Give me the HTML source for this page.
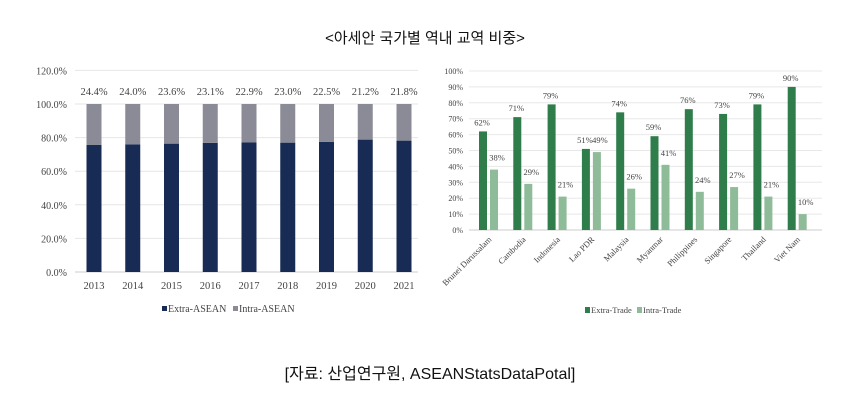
<!DOCTYPE html>
<html><head><meta charset="utf-8"><style>
body{margin:0;width:849px;height:403px;background:#fff;overflow:hidden}
svg text{font-family:"Liberation Serif",serif;fill:#444}
.k{font-family:"Liberation Sans","Noto Sans CJK KR",sans-serif;fill:#111}
</style></head><body>
<svg width="849" height="403">
<text class="k" x="425" y="43" text-anchor="middle" font-size="15">&lt;아세안 국가별 역내 교역 비중&gt;</text>
<g id="left"></g>
<g id="right"></g>
<text class="k" x="430" y="379" text-anchor="middle" font-size="16">[자료: 산업연구원, ASEANStatsDataPotal]</text>
</svg>
<script>
const years=["2013","2014","2015","2016","2017","2018","2019","2020","2021"];
const intraAsean=[24.4,24.0,23.6,23.1,22.9,23.0,22.5,21.2,21.8];
const leftTicks=["0.0%","20.0%","40.0%","60.0%","80.0%","100.0%","120.0%"];
const countries=["Brunei Darussalam","Cambodia","Indonesia","Lao PDR","Malaysia","Myanmar","Philippines","Singapore","Thailand","Viet Nam"];
const extraTrade=[62,71,79,51,74,59,76,73,79,90];
const intraTrade=[38,29,21,49,26,41,24,27,21,10];
const rightTicks=["0%","10%","20%","30%","40%","50%","60%","70%","80%","90%","100%"];
const NS="http://www.w3.org/2000/svg";
function mk(p,t,a,txt){const e=document.createElementNS(NS,t);for(const k in a)e.setAttribute(k,a[k]);if(txt!=null)e.textContent=txt;p.appendChild(e);return e;}
// left
const L=document.getElementById('left');
const ly=v=>272-v*1.68, lx=i=>94+i*38.75;
leftTicks.forEach((t,i)=>{const v=i*20;
 const g=mk(L,'line',{x1:75,x2:418,y1:ly(v),y2:ly(v),stroke:i==0?'#ccc':'#e6e6e6'});
 
 const tx=mk(L,'text',{x:67,y:ly(v)+4,'text-anchor':'end','font-size':10},t);
 });
years.forEach((y,i)=>{const ex=100-intraAsean[i];
 const b=mk(L,'rect',{x:lx(i)-7.5,y:ly(ex),width:15,height:ly(0)-ly(ex),fill:'#172b55'});
 
 const c=mk(L,'rect',{x:lx(i)-7.5,y:ly(100),width:15,height:ly(ex)-ly(100),fill:'#8a8b96'});
 
 const t=mk(L,'text',{x:lx(i),y:95,'text-anchor':'middle','font-size':10.5},intraAsean[i].toFixed(1)+'%');
 
 const xl=mk(L,'text',{x:lx(i),y:289,'text-anchor':'middle','font-size':10.5},y);
 });
let e=mk(L,'rect',{x:162,y:306,width:5,height:5,fill:'#172b55'});
e=mk(L,'text',{x:168,y:312,'font-size':10},'Extra-ASEAN');
e=mk(L,'rect',{x:233,y:306,width:5,height:5,fill:'#8a8b96'});
e=mk(L,'text',{x:239,y:312,'font-size':10},'Intra-ASEAN');
// right
const R=document.getElementById('right');
const ry=v=>230-v*1.59, rx=i=>489+i*34.3;
rightTicks.forEach((t,i)=>{const v=i*10;
 const g=mk(R,'line',{x1:469,x2:822,y1:ry(v),y2:ry(v),stroke:i==0?'#ccc':'#e8e8e8'});
 
 const tx=mk(R,'text',{x:463,y:ry(v)+3,'text-anchor':'end','font-size':8},t);
 });
countries.forEach((c,i)=>{const x=rx(i);
 const a=mk(R,'rect',{x:x-10,y:ry(extraTrade[i]),width:8,height:ry(0)-ry(extraTrade[i]),fill:'#2e7d4a'});
 
 const b=mk(R,'rect',{x:x+1,y:ry(intraTrade[i]),width:8,height:ry(0)-ry(intraTrade[i]),fill:'#8fbc98'});
 
 const t1=mk(R,'text',{x:x-7,y:ry(extraTrade[i])-6,'text-anchor':'middle','font-size':8.5},extraTrade[i]+'%');
 
 const t2=mk(R,'text',{x:x+8,y:ry(intraTrade[i])-9,'text-anchor':'middle','font-size':8.5},intraTrade[i]+'%');
 
 const cl=mk(R,'text',{x:x+3,y:240,'text-anchor':'end','font-size':8.5,transform:`rotate(-45 ${x+3} 240)`},c);
 });
e=mk(R,'rect',{x:585,y:307,width:5,height:6,fill:'#2e7d4a'});
e=mk(R,'text',{x:591,y:313,'font-size':8.5},'Extra-Trade');
e=mk(R,'rect',{x:637,y:307,width:5,height:6,fill:'#8fbc98'});
e=mk(R,'text',{x:643,y:313,'font-size':8.5},'Intra-Trade');
</script>
</body></html>
